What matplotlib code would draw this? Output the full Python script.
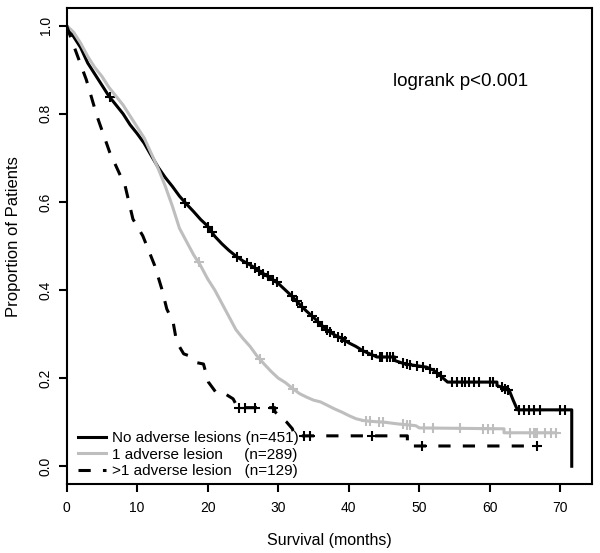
import numpy as np
import matplotlib.pyplot as plt

plt.rcParams['font.family'] = 'Liberation Sans'

# Kaplan-Meier estimates (months, proportion surviving)
# repeated times mark the visible vertical drops of the step curves
t_none = [0, 1, 2, 3, 4, 5, 6, 7, 8, 9, 10, 11, 12, 13, 14, 15, 16, 17, 18, 19,
          20, 21, 22, 23, 24, 25, 26, 27, 28, 29, 30, 31, 32, 33, 34, 35, 36, 37,
          38, 39, 40, 41, 42, 43, 44, 46.5, 46.5, 48, 51, 52, 53, 54,
          61, 61, 62, 62.8, 63.3, 63.9, 71.6, 71.6]
s_none = [1.0, 0.975, 0.95, 0.915, 0.89, 0.865, 0.84, 0.82, 0.80, 0.775, 0.755,
          0.733, 0.705, 0.678, 0.655, 0.635, 0.613, 0.595, 0.578, 0.56, 0.545,
          0.522, 0.505, 0.49, 0.477, 0.466, 0.457, 0.447, 0.436, 0.426, 0.415,
          0.40, 0.385, 0.368, 0.352, 0.338, 0.322, 0.308, 0.298, 0.29, 0.28,
          0.272, 0.262, 0.255, 0.248, 0.248, 0.24, 0.232, 0.225, 0.218,
          0.205, 0.191, 0.191, 0.183, 0.178, 0.17, 0.15, 0.128, 0.128, 0.0]
c_none = [6.1, 16.8, 20.1, 20.6, 24.2, 25.6, 26.7, 27.3, 27.9, 28.5, 29.3, 29.8,
          31.9, 32.6, 33.4, 34.8, 35.7, 36.2, 36.9, 37.4, 38.5, 39.0, 39.5, 42.0,
          43.3, 44.4, 44.7, 45.4, 45.9, 46.3, 47.7, 48.2, 48.7, 49.6, 50.5, 51.5,
          52.5, 53.0, 54.6, 55.3, 56.0, 56.5, 57.0, 57.7, 58.4, 60.0, 60.5, 61.7,
          62.2, 62.6, 64.1, 64.8, 65.5, 66.2, 67.1, 70.0, 70.7]

t_one = [0, 1, 2, 3, 4, 5, 6, 7, 8, 9, 10, 11, 12, 13, 14, 15, 16, 17, 18, 19,
         20, 21, 22, 23, 24, 25, 26, 27, 28, 29, 30, 31, 32, 33, 34, 35, 36, 37,
         38, 39, 40, 41, 42, 43, 45, 47, 49.5, 50, 62, 62, 69.3]
s_one = [1.0, 0.985, 0.96, 0.93, 0.905, 0.885, 0.86, 0.84, 0.82, 0.795, 0.77,
         0.745, 0.71, 0.675, 0.635, 0.59, 0.54, 0.51, 0.48, 0.455, 0.425, 0.40,
         0.37, 0.34, 0.31, 0.29, 0.272, 0.25, 0.232, 0.215, 0.20, 0.19, 0.177,
         0.165, 0.157, 0.15, 0.146, 0.138, 0.13, 0.123, 0.115, 0.108, 0.104,
         0.102, 0.10, 0.096, 0.092, 0.087, 0.085, 0.076, 0.076]
c_one = [18.7, 27.4, 32.1, 42.5, 43.0, 44.3, 44.9, 47.7, 48.3, 48.7, 50.6, 52.0,
         55.8, 59.0, 59.8, 60.5, 62.9, 65.7, 66.2, 66.4, 66.7, 67.8, 68.6, 69.3]

t_multi = [0, 0.7, 1.9, 2.8, 4.3, 6.1, 8.3, 9.4, 10.8, 12.5, 13.5, 14.2, 15.1,
           15.6, 16.6, 17.5, 18.5, 19.4, 20.1, 21.2, 22.5, 23.6, 24, 24.3,
           29.5, 29.5, 30.2, 31.2, 32, 32.3, 48.3, 48.3, 66.7]
s_multi = [1.0, 0.968, 0.916, 0.877, 0.795, 0.713, 0.636, 0.561, 0.523, 0.455,
           0.402, 0.357, 0.327, 0.282, 0.255, 0.25, 0.235, 0.232, 0.191, 0.167,
           0.164, 0.153, 0.141, 0.133, 0.133, 0.124, 0.114, 0.10, 0.085, 0.069,
           0.069, 0.046, 0.046]
c_multi = [24.5, 25.3, 26.7, 29.2, 33.6, 34.5, 43.3, 50.4, 66.7]

labels = ["No adverse lesions (n=451)",
          "1 adverse lesion     (n=289)",
          ">1 adverse lesion   (n=129)"]

GREY = "#BEBEBE"

fig = plt.figure(figsize=(6, 5.53), dpi=100)
ax = fig.add_axes([0.111, 0.125, 0.876, 0.8605])

groups = [(t_none, s_none, c_none, "black", "-"),
          (t_one, s_one, c_one, GREY, "-"),
          (t_multi, s_multi, c_multi, "black", (0, (4, 4)))]

for (t, s, c, col, ls), lab in zip(groups, labels):
    ax.plot(t, s, color=col, lw=2.2, linestyle=ls, label=lab)
    # censoring ticks sit on the curve
    ax.plot(c, np.interp(c, t, s), "+", color=col, ms=7, mew=1.5,
            linestyle="none")

ax.set_xlim(0, 74.5)
ax.set_ylim(-0.04, 1.04)
ax.set_xticks(np.arange(0, 71, 10))
ax.set_yticks(np.arange(0, 1.01, 0.2))
ax.set_yticklabels(["%.1f" % v for v in np.arange(0, 1.01, 0.2)],
                   rotation=90, va="center")
ax.tick_params(direction="out", length=6, width=1.5, labelsize=10, pad=6,
               color="black")
ax.tick_params(axis="y", pad=4)
for sp in ax.spines.values():
    sp.set_linewidth(1.5)

ax.set_xlabel("Survival (months)", fontsize=11.5)
ax.set_ylabel("Proportion of Patients", fontsize=12)
ax.xaxis.set_label_coords(0.5, -0.103)
ax.yaxis.set_label_coords(-0.087, 0.52)

ax.text(55.8, 0.874, "logrank p<0.001", fontsize=13.5, ha="center",
        va="center")

ax.legend(loc="lower left", bbox_to_anchor=(0.0215, 0.0125), frameon=False,
          fontsize=11, handlelength=1.85, handletextpad=0.4, labelspacing=0.15,
          borderpad=0, borderaxespad=0)

fig.savefig("out.png", dpi=100)
